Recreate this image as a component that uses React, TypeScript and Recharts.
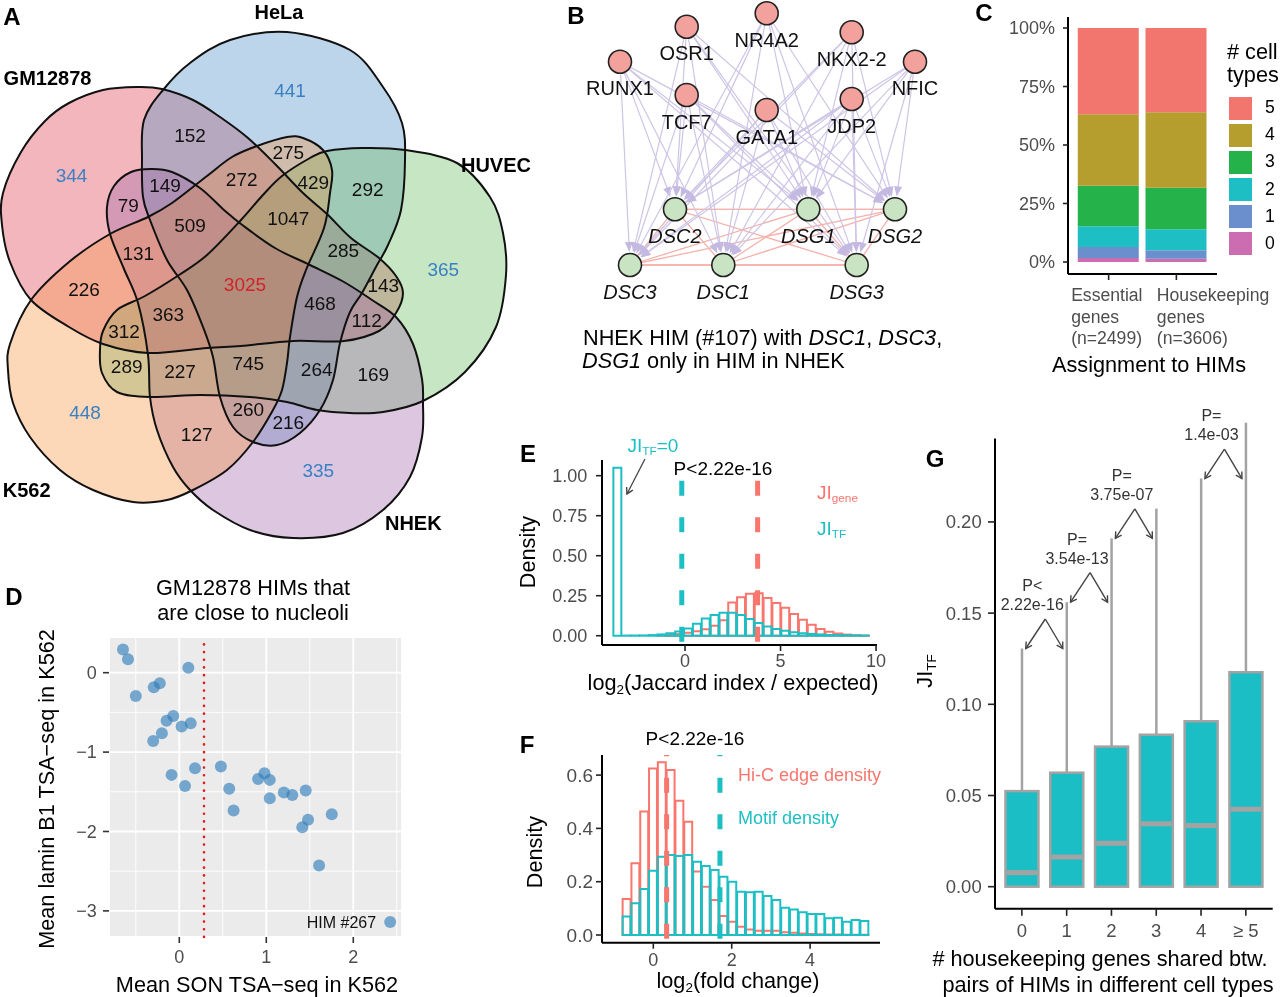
import React from 'react';
import {
  ScatterChart, Scatter, XAxis, YAxis, BarChart, Bar,
  CartesianGrid, ReferenceLine,
} from 'recharts';

const FONT = '"Liberation Sans", Arial, Helvetica, sans-serif';
const TICK_GREY = '#4D4D4D';
const RED = '#F8766D';
const TEAL = '#1DBFC4';
const AXIS_LINE = { stroke: '#000', strokeWidth: 2 };
const TICK_LINE = { stroke: '#222', strokeWidth: 1.6 };
const tickStyle = (size: number) => ({ fill: TICK_GREY, fontSize: size, fontFamily: FONT });

/* ================= A: Venn ================= */
const vennSetNames = ['GM12878', 'HeLa', 'HUVEC', 'NHEK', 'K562'];
const vennSetFill = ['#E86E79', '#7BABD5', '#8FCD87', '#B98DC1', '#F9AF71'];
const vennSetTint = ['#F4B7BC', '#BDD5EA', '#C7E6C3', '#DCC6E0', '#FCD7B8'];
const vennSetOutline: number[][][] = [
  [[3,193],[21,152],[45,121],[69,103],[103,90],[138,87],[162,89],[193,100],[220,117],[248,138],[276,165],[303,193],[327,214],[351,238],[379,258],[396,276],[403,293],[396,313],[379,331],[344,341],[293,341],[241,346],[207,348],[148,353],[103,344],[69,327],[31,300],[10,262],[2,225]],
  [[287,32],[350,50],[383,87],[402,123],[405,160],[401,210],[388,245],[377,265],[362,293],[350,312],[340,343],[333,380],[320,410],[300,433],[277,445],[253,442],[233,427],[220,397],[213,357],[203,327],[187,290],[167,260],[150,220],[143,197],[142,160],[144,120],[163,90],[190,63],[230,40]],
  [[100,350],[103,331],[117,310],[145,296],[179,275],[207,255],[241,220],[262,196],[282,176],[310,158],[327,151],[362,148],[405,150],[457,163],[490,197],[503,233],[506,275],[496,327],[465,372],[423,401],[383,412],[350,413],[317,410],[287,402],[250,397],[200,395],[150,397],[117,392],[102,373]],
  [[107,207],[114,186],[131,172],[151,169],[172,172],[200,188],[224,210],[241,224],[275,248],[310,265],[344,282],[372,300],[396,317],[413,344],[422,379],[423,403],[422,437],[410,477],[383,510],[343,533],[293,538],[250,530],[213,510],[190,490],[173,467],[157,430],[150,397],[148,355],[138,303],[124,269],[110,234]],
  [[257,146],[287,137],[303,138],[323,150],[332,170],[330,193],[324,228],[306,270],[297,297],[290,337],[287,363],[282,390],[273,410],[253,442],[227,470],[193,490],[167,500],[133,502],[93,490],[60,470],[30,437],[13,403],[8,370],[10,344],[31,300],[69,262],[110,234],[148,217],[172,203],[207,176],[232,157]],
];
const vennSetLabelAt = [[47.5,77.5],[279,12],[496,165.3],[413.3,523.3],[26.7,490]];
const vennCounts = [441,152,275,149,272,429,292,79,509,1047,131,285,365,3025,226,143,468,363,112,312,289,227,745,264,169,448,260,216,127,335,344];
const vennCountAt = [[290,90],[190,135],[288.3,152.7],[165,185.7],[241.7,179.3],[313.3,182.3],[367.7,189],[128.3,205],[190,225],[288.3,218.3],[138.3,253.3],[343.3,250],[443.3,269.3],[245,284],[84,289],[383.3,285.7],[320,303.3],[168.3,314.3],[366.7,320.7],[124,331.7],[126.7,366.7],[180,371.7],[248.3,363.3],[316.7,369.3],[373.3,374],[85,412.7],[248.3,409.3],[288.3,422.7],[196.7,434],[318.3,470],[71.6,175.6]];
const vennUniqueCounts = [344, 441, 365, 335, 448];
const vennAllCount = 3025;

/* ================= B: network ================= */
const tfNames = ['RUNX1','OSR1','NR4A2','NKX2-2','NFIC','TCF7','GATA1','JDP2'];
const tfLayout = [[620,61.7],[686.7,26.7],[766.7,13.3],[851.7,32.3],[915,61.7],[686.7,95],[766.7,110],[851.7,99]];
const geneNames = ['DSC2','DSG1','DSG2','DSC3','DSC1','DSG3'];
const geneLayout = [[675,209.3],[808.3,209.3],[895,209.3],[630,265],[723.3,265],[856.7,265]];
const regEdges: [string,string][] = [];
tfNames.forEach((t) => geneNames.forEach((g) => regEdges.push([t, g])));
const coEdges: [string,string][] = [
  ['DSC2','DSG1'],['DSC2','DSG2'],['DSC2','DSC1'],['DSC2','DSG3'],['DSC2','DSC3'],
  ['DSC3','DSC1'],['DSC3','DSG3'],['DSC3','DSG1'],['DSC3','DSG2'],
  ['DSC1','DSG3'],['DSC1','DSG2'],['DSC1','DSG1'],['DSG1','DSG3'],['DSG2','DSG3'],['DSG1','DSG2'],
];

/* ================= C: stacked bars ================= */
const cCategoryLines = [['Essential','genes','(n=2499)'],['Housekeeping','genes','(n=3606)']];
const cLevels = ['0','1','2','3','4','5'];
const cColors = ['#CC6DB2','#6B8FCD','#1DBEC4','#25B24B','#B59E2E','#F3766E'];
const cEssential = [1.7, 4.7, 8.9, 17.3, 30.5, 36.9];
const cHousekeeping = [1.4, 3.6, 9.0, 17.7, 32.3, 36.0];
const cTable = [cEssential, cHousekeeping].map((vals, i) => {
  const row: any = { x: i + 1 };
  cLevels.forEach((l, j) => { row['n' + l] = vals[j]; });
  return row;
});
const cTickShift = [-37.5, -19.5];

/* ================= D: scatter ================= */
const dSon = [-0.647,-0.59,-0.5,-0.293,-0.224,0.104,-0.146,-0.069,-0.2,-0.3,0.027,0.131,-0.089,0.066,0.181,0.478,0.574,0.624,0.906,0.979,1.04,1.04,1.202,1.299,1.453,1.753,1.48,1.414,1.607,2.424];
const dLamin = [0.293,0.168,-0.293,-0.184,-0.134,0.063,-0.604,-0.545,-0.763,-0.86,-0.679,-0.637,-1.287,-1.426,-1.203,-1.182,-1.463,-1.736,-1.338,-1.266,-1.35,-1.581,-1.509,-1.539,-1.484,-1.782,-1.853,-1.946,-2.428,-3.14];
const dTable = dSon.map((x, i) => ({ x, y: dLamin[i] }));
const dThreshold = 0.284;
const dLabelled = [{ x: 2.424, y: -3.14, label: 'HIM #267' }];

/* ================= E: histogram ================= */
const eBinMid = [-3.519,-3.056,-2.594,-2.131,-1.669,-1.206,-0.744,-0.281,0.181,0.644,1.106,1.569,2.031,2.494,2.956,3.419,3.881,4.344,4.806,5.269,5.731,6.194,6.656,7.119,7.581,8.044,8.506,8.969,9.431];
const eGene = [0,0,0,0,0,0.002,0.005,0.01,0.018,0.028,0.04,0.062,0.097,0.208,0.24,0.262,0.265,0.235,0.205,0.175,0.135,0.1,0.068,0.042,0.025,0.014,0.007,0.003,0.001];
const eTF = [1.05,0.001,0.001,0.002,0.004,0.008,0.015,0.026,0.045,0.075,0.108,0.13,0.143,0.143,0.13,0.105,0.08,0.058,0.042,0.031,0.022,0.016,0.011,0.008,0.005,0.004,0.003,0.002,0.001];
const eGeneTable = eBinMid.map((x, i) => ({ x, v: eGene[i] }));
const eTFTable = eBinMid.map((x, i) => ({ x, v: eTF[i] }));
const eMeanTF = -0.17;
const eMeanGene = 3.8;
const eZeroNote = [{ x: -3.04, y: 0.886 }];

/* ================= F: histogram ================= */
const fBinMid = [-0.671,-0.446,-0.221,0.003,0.228,0.453,0.677,0.902,1.127,1.351,1.576,1.801,2.026,2.25,2.475,2.7,2.924,3.149,3.374,3.598,3.823,4.048,4.273,4.497,4.722,4.947,5.171,5.396];
const fHiC = [0.135,0.269,0.463,0.625,0.648,0.619,0.504,0.425,0.238,0.181,0.131,0.071,0.05,0.031,0.021,0.016,0.016,0.016,0.01,0.008,0.006,0.004,0.003,0.002,0.002,0.001,0.001,0.001];
const fMotif = [0.069,0.119,0.1725,0.241,0.294,0.3,0.296,0.3,0.275,0.259,0.244,0.219,0.2,0.1625,0.16,0.1625,0.146,0.131,0.1025,0.096,0.085,0.079,0.079,0.0625,0.065,0.05,0.056,0.0525];
const fHiCTable = fBinMid.map((x, i) => ({ x, v: fHiC[i] }));
const fMotifTable = fBinMid.map((x, i) => ({ x, v: fMotif[i] }));
const fMeanHiC = 0.34;
const fMeanMotif = 1.7;

/* ================= G: boxplots ================= */
const gCats = [0, 1, 2, 3, 4, 5];
const gLabels = ['0', '1', '2', '3', '4', '\u2265 5'];
const gQ3 = [0.0524, 0.0625, 0.0768, 0.0833, 0.0907, 0.1176];
const gMedian = [0.0077, 0.0163, 0.0238, 0.0345, 0.0335, 0.0425];
const gWhiskerTop = [0.1306, 0.156, 0.191, 0.2073, 0.2238, 0.2544];
const gTable = gCats.map((x, i) => ({ x, q3: gQ3[i], median: gMedian[i], whiskerTop: gWhiskerTop[i] }));
const gTests = [
  { from: 0, to: 1, p: ['P<', '2.22e-16'] },
  { from: 1, to: 2, p: ['P=', '3.54e-13'] },
  { from: 2, to: 3, p: ['P=', '3.75e-07'] },
  { from: 4, to: 5, p: ['P=', '1.4e-03'] },
];
const gAnno = gTests.map((t) => ({ x: (t.from + t.to) / 2, y: gWhiskerTop[t.from], p: t.p }));

/* ================= helpers ================= */
function closedPath(pts: { x: number; y: number }[]) {
  const n = pts.length;
  if (n < 3) return '';
  let d = `M${pts[0].x.toFixed(2)},${pts[0].y.toFixed(2)}`;
  for (let i = 0; i < n; i++) {
    const p0 = pts[(i - 1 + n) % n], p1 = pts[i], p2 = pts[(i + 1) % n], p3 = pts[(i + 2) % n];
    const c1x = p1.x + (p2.x - p0.x) / 6, c1y = p1.y + (p2.y - p0.y) / 6;
    const c2x = p2.x - (p3.x - p1.x) / 6, c2y = p2.y - (p3.y - p1.y) / 6;
    d += ` C${c1x.toFixed(2)},${c1y.toFixed(2)} ${c2x.toFixed(2)},${c2y.toFixed(2)} ${p2.x.toFixed(2)},${p2.y.toFixed(2)}`;
  }
  return d + ' Z';
}
const linePts = (p: any) => (p.points || []).map((q: any) => ({ x: q.x ?? q.cx, y: q.y ?? q.cy }));
const noShape = () => <g />;
const pay = (p: any) => p.payload ?? p;

const vennLengths = vennSetOutline.map((o) => o.length);
function splitOutlines(pts: { x: number; y: number }[]) {
  const out: { x: number; y: number }[][] = [];
  let s = 0;
  vennLengths.forEach((n) => { out.push(pts.slice(s, s + n)); s += n; });
  return out;
}
const vennAllPoints = vennSetOutline.flat().map(([x, y]) => ({ x, y }));

function arrowHead(x: number, y: number, ux: number, uy: number, len: number, half: number, fill: string) {
  const bx = x - ux * len, by = y - uy * len;
  const px = -uy, py = ux;
  return <polygon points={`${x},${y} ${bx + px * half},${by + py * half} ${bx - px * half},${by - py * half}`} fill={fill} />;
}
function openArrow(x: number, y: number, ux: number, uy: number, len: number, color: string) {
  const a = Math.PI / 6;
  const l1x = x - len * (ux * Math.cos(a) - uy * Math.sin(a));
  const l1y = y - len * (uy * Math.cos(a) + ux * Math.sin(a));
  const l2x = x - len * (ux * Math.cos(a) + uy * Math.sin(a));
  const l2y = y - len * (uy * Math.cos(a) - ux * Math.sin(a));
  return <polyline points={`${l1x},${l1y} ${x},${y} ${l2x},${l2y}`} fill="none" stroke={color} strokeWidth={1.4} />;
}

function Txt({ x, y, children, size = 21.7, color = '#000', align = 'center', bold = false, italic = false, rotate = 0 }: any) {
  const tx = align === 'center' ? '-50%' : align === 'right' ? '-100%' : '0%';
  return (
    <div style={{
      position: 'absolute', left: x, top: y,
      transform: `translate(${tx}, -50%)` + (rotate ? ` rotate(${rotate}deg)` : ''),
      fontSize: size, color, fontWeight: bold ? 700 : 400, fontStyle: italic ? 'italic' : 'normal',
      whiteSpace: 'nowrap', lineHeight: 1, fontFamily: FONT,
    }}>{children}</div>
  );
}
const Sub = ({ children }: any) => <span style={{ fontSize: '0.62em', verticalAlign: '-0.3em', lineHeight: 0 }}>{children}</span>;

/* ================= panels ================= */
function VennPanel() {
  const countData = vennCounts.map((c, i) => ({ x: vennCountAt[i][0], y: vennCountAt[i][1], c }));
  const setData = vennSetNames.map((s, i) => ({ x: vennSetLabelAt[i][0], y: vennSetLabelAt[i][1], s }));
  return (
    <div style={{ position: 'absolute', left: 0, top: 0 }}>
      <ScatterChart width={540} height={560} margin={{ top: 0, right: 0, bottom: 0, left: 0 }}>
        <XAxis type="number" dataKey="x" domain={[0, 540]} hide allowDataOverflow />
        <YAxis type="number" dataKey="y" domain={[0, 560]} reversed hide allowDataOverflow />
        <Scatter data={vennAllPoints} isAnimationActive={false} shape={noShape}
          line={(p: any) => {
            const sets = splitOutlines(linePts(p));
            return (
              <g>
                <g>
                  {sets.map((s, i) => <path key={'n' + i} d={closedPath(s)} fill={vennSetFill[i]} fillOpacity={0.5} stroke="none" />)}
                </g>
                <g opacity={0.36} style={{ isolation: 'isolate' }}>
                  {sets.map((s, i) => <path key={'m' + i} d={closedPath(s)} fill={vennSetTint[i]} stroke="none" style={{ mixBlendMode: 'multiply' }} />)}
                </g>
                <g>
                  {sets.map((s, i) => <path key={'o' + i} d={closedPath(s)} fill="none" stroke="#111" strokeWidth={2} />)}
                </g>
              </g>
            );
          }} />
        <Scatter data={countData} isAnimationActive={false} shape={(p: any) => {
          const c = pay(p).c;
          const color = c === vennAllCount ? '#D2232A' : vennUniqueCounts.includes(c) ? '#3A80C4' : '#111';
          return <text x={p.cx} y={p.cy} dy="0.355em" textAnchor="middle" fill={color} style={{ fontFamily: FONT, fontSize: 19 }}>{c}</text>;
        }} />
        <Scatter data={setData} isAnimationActive={false} shape={(p: any) => (
          <text x={p.cx} y={p.cy} dy="0.355em" textAnchor="middle" fill="#000" style={{ fontFamily: FONT, fontSize: 20, fontWeight: 700 }}>{pay(p).s}</text>
        )} />
      </ScatterChart>
    </div>
  );
}

function NetworkPanel() {
  const pos: Record<string, { x: number; y: number }> = {};
  tfNames.forEach((t, i) => { pos[t] = { x: tfLayout[i][0], y: tfLayout[i][1] }; });
  geneNames.forEach((g, i) => { pos[g] = { x: geneLayout[i][0], y: geneLayout[i][1] }; });
  const R = 11.5;
  const regLine = (p: any) => {
    const [a, b] = linePts(p);
    if (!a || !b) return <g />;
    const dx = b.x - a.x, dy = b.y - a.y, L = Math.hypot(dx, dy), ux = dx / L, uy = dy / L;
    const x1 = a.x + ux * (R + 1), y1 = a.y + uy * (R + 1);
    const x2 = b.x - ux * (R + 1.5), y2 = b.y - uy * (R + 1.5);
    return (
      <g>
        <line x1={x1} y1={y1} x2={x2 - ux * 6} y2={y2 - uy * 6} stroke="#CEC5E6" strokeWidth={1.2} />
        {arrowHead(x2, y2, ux, uy, 10, 4, '#C4B9E1')}
      </g>
    );
  };
  const coLine = (p: any) => {
    const [a, b] = linePts(p);
    if (!a || !b) return <g />;
    return <line x1={a.x} y1={a.y} x2={b.x} y2={b.y} stroke="#F4B2AB" strokeWidth={1.3} />;
  };
  const tfData = tfNames.map((t) => ({ ...pos[t], name: t }));
  const geneData = geneNames.map((g) => ({ ...pos[g], name: g }));
  return (
    <div style={{ position: 'absolute', left: 560, top: 0 }}>
      <ScatterChart width={400} height={330} margin={{ top: 0, right: 0, bottom: 0, left: 0 }}>
        <XAxis type="number" dataKey="x" domain={[560, 960]} hide allowDataOverflow />
        <YAxis type="number" dataKey="y" domain={[0, 330]} reversed hide allowDataOverflow />
        {coEdges.map(([a, b], i) => (
          <Scatter key={'c' + i} data={[pos[a], pos[b]]} isAnimationActive={false} shape={noShape} line={coLine} />
        ))}
        {regEdges.map(([a, b], i) => (
          <Scatter key={'r' + i} data={[pos[a], pos[b]]} isAnimationActive={false} shape={noShape} line={regLine} />
        ))}
        <Scatter data={tfData} isAnimationActive={false} shape={(p: any) => (
          <g>
            <circle cx={p.cx} cy={p.cy} r={R} fill="#F2A19C" stroke="#222" strokeWidth={1.6} />
            <text x={p.cx} y={p.cy + 26.5} dy="0.355em" textAnchor="middle" style={{ fontFamily: FONT, fontSize: 20 }} fill="#111">{pay(p).name}</text>
          </g>
        )} />
        <Scatter data={geneData} isAnimationActive={false} shape={(p: any) => (
          <g>
            <circle cx={p.cx} cy={p.cy} r={R} fill="#C9E4C3" stroke="#222" strokeWidth={1.6} />
            <text x={p.cx} y={p.cy + 26.5} dy="0.355em" textAnchor="middle" style={{ fontFamily: FONT, fontSize: 20, fontStyle: 'italic' }} fill="#111">{pay(p).name}</text>
          </g>
        )} />
      </ScatterChart>
    </div>
  );
}

function PanelC() {
  const renderTick = (props: any) => {
    const { x, y, payload } = props;
    const i = Math.round(payload.value) - 1;
    if (i < 0 || i > 1) return <g />;
    return (
      <g>
        {cCategoryLines[i].map((s, j) => (
          <text key={j} x={x + cTickShift[i]} y={y + 15 + j * 21.6} dy="0.355em" textAnchor="start" fill={TICK_GREY} style={{ fontFamily: FONT, fontSize: 17.6 }}>{s}</text>
        ))}
      </g>
    );
  };
  return (
    <div style={{ position: 'absolute', left: 960, top: 0 }}>
      <BarChart width={320} height={380} data={cTable} margin={{ top: 17, right: 63, bottom: 0, left: 0 }}>
        <XAxis type="number" dataKey="x" domain={[0.4, 2.6]} ticks={[1, 2]} interval={0} height={106} allowDataOverflow
          axisLine={AXIS_LINE} tickLine={TICK_LINE} tickSize={6} tickMargin={0} tick={renderTick} />
        <YAxis type="number" domain={[-5.13, 104.7]} ticks={[0, 25, 50, 75, 100]} interval={0} width={108} allowDataOverflow
          tickFormatter={(v: number) => `${v}%`} axisLine={AXIS_LINE} tickLine={TICK_LINE} tickSize={5} tickMargin={8} tick={tickStyle(18)} />
        {cLevels.map((l, j) => (
          <Bar key={l} dataKey={'n' + l} stackId="s" fill={cColors[j]} barSize={61} isAnimationActive={false} />
        ))}
      </BarChart>
    </div>
  );
}

function PanelD() {
  const minorX = [-0.5, 0.5, 1.5, 2.5];
  const minorY = [-2.5, -1.5, -0.5];
  const fmt = (v: number) => (v === 0 ? '0' : v < 0 ? '\u2212' + Math.abs(v) : String(v));
  return (
    <div style={{ position: 'absolute', left: 0, top: 560 }}>
      <ScatterChart width={420} height={437} margin={{ top: 77, right: 18, bottom: 0, left: 0 }}>
        <CartesianGrid fill="#EBEBEB" stroke="#FFFFFF" strokeWidth={1.8} />
        <XAxis type="number" dataKey="x" domain={[-0.808, 2.56]} ticks={[0, 1, 2]} interval={0} height={60} allowDataOverflow
          axisLine={false} tickLine={{ stroke: '#333', strokeWidth: 1.6 }} tickSize={6} tickMargin={7.5} tick={tickStyle(18)} />
        <YAxis type="number" dataKey="y" domain={[-3.329, 0.4496]} ticks={[-3, -2, -1, 0]} interval={0} width={109} allowDataOverflow
          tickFormatter={fmt} axisLine={false} tickLine={{ stroke: '#333', strokeWidth: 1.6 }} tickSize={6} tickMargin={6.3} tick={tickStyle(18)} />
        {minorX.map((v) => <ReferenceLine key={'mx' + v} x={v} stroke="#FFFFFF" strokeWidth={0.9} />)}
        {minorY.map((v) => <ReferenceLine key={'my' + v} y={v} stroke="#FFFFFF" strokeWidth={0.9} />)}
        <ReferenceLine x={dThreshold} stroke="#E41A1C" strokeWidth={2.6} strokeDasharray="0.1 7.6" strokeLinecap="round" />
        <Scatter data={dTable} isAnimationActive={false} shape={(p: any) => (
          <circle cx={p.cx} cy={p.cy} r={6} fill="#2B7BBA" fillOpacity={0.62} />
        )} />
        <Scatter data={dLabelled} isAnimationActive={false} shape={(p: any) => (
          <text x={p.cx - 14} y={p.cy} dy="0.355em" textAnchor="end" fill="#111" style={{ fontFamily: FONT, fontSize: 16 }}>{pay(p).label}</text>
        )} />
      </ScatterChart>
    </div>
  );
}

const E_DOMAIN_X: [number, number] = [-4.346, 10.05];
const E_DOMAIN_Y: [number, number] = [-0.058, 1.098];
const E_PLOT_MARGIN = { top: 30, right: 23, bottom: 55, left: 92 };
function PanelE() {
  return (
    <>
      <div style={{ position: 'absolute', left: 510, top: 430 }}>
        <BarChart width={390} height={270} data={eGeneTable} margin={{ top: 30, right: 23, bottom: 0, left: 0 }}>
          <XAxis type="number" dataKey="x" domain={E_DOMAIN_X} ticks={[0, 5, 10]} interval={0} height={55} allowDataOverflow
            axisLine={AXIS_LINE} tickLine={TICK_LINE} tickSize={6} tickMargin={3.5} tick={tickStyle(18)} />
          <YAxis type="number" domain={E_DOMAIN_Y} ticks={[0, 0.25, 0.5, 0.75, 1]} interval={0} width={92} allowDataOverflow
            tickFormatter={(v: number) => v.toFixed(2)} axisLine={AXIS_LINE} tickLine={TICK_LINE} tickSize={6} tickMargin={8.7} tick={tickStyle(18)} />
          <Bar dataKey="v" barSize={8.83} fill="none" stroke={RED} strokeWidth={2} isAnimationActive={false} />
        </BarChart>
      </div>
      <div style={{ position: 'absolute', left: 510, top: 430 }}>
        <BarChart width={390} height={270} data={eTFTable} margin={E_PLOT_MARGIN}>
          <XAxis type="number" dataKey="x" domain={E_DOMAIN_X} hide allowDataOverflow />
          <YAxis type="number" domain={E_DOMAIN_Y} hide allowDataOverflow />
          <Bar dataKey="v" barSize={8.83} fill="none" stroke={TEAL} strokeWidth={2} isAnimationActive={false} />
          <ReferenceLine segment={[{ x: eMeanTF, y: -0.0375 }, { x: eMeanTF, y: 1.098 }]} stroke={TEAL} strokeWidth={5} strokeDasharray="15 21.5" ifOverflow="visible" />
          <ReferenceLine segment={[{ x: eMeanGene, y: -0.0375 }, { x: eMeanGene, y: 1.098 }]} stroke={RED} strokeWidth={5} strokeDasharray="15 21.5" ifOverflow="visible" />
        </BarChart>
      </div>
      <div style={{ position: 'absolute', left: 510, top: 430 }}>
        <ScatterChart width={390} height={270} margin={E_PLOT_MARGIN}>
          <XAxis type="number" dataKey="x" domain={E_DOMAIN_X} hide />
          <YAxis type="number" dataKey="y" domain={E_DOMAIN_Y} hide />
          <Scatter data={eZeroNote} isAnimationActive={false} shape={(p: any) => {
            const sx = p.cx + 18, sy = p.cy - 35;
            const dx = p.cx - sx, dy = p.cy - sy, L = Math.hypot(dx, dy);
            return (
              <g>
                <line x1={sx} y1={sy} x2={p.cx} y2={p.cy} stroke="#444" strokeWidth={1.3} />
                {openArrow(p.cx, p.cy, dx / L, dy / L, 7, '#444')}
              </g>
            );
          }} />
        </ScatterChart>
      </div>
    </>
  );
}

const F_DOMAIN_X: [number, number] = [-1.309, 5.783];
const F_DOMAIN_Y: [number, number] = [-0.0289, 0.6754];
function PanelF() {
  return (
    <>
      <div style={{ position: 'absolute', left: 510, top: 720 }}>
        <BarChart width={390} height={277} data={fHiCTable} margin={{ top: 35, right: 20, bottom: 0, left: 0 }}>
          <XAxis type="number" dataKey="x" domain={F_DOMAIN_X} ticks={[0, 2, 4]} interval={0} height={54.3} allowDataOverflow
            axisLine={AXIS_LINE} tickLine={TICK_LINE} tickSize={6} tickMargin={5} tick={tickStyle(18)} />
          <YAxis type="number" domain={F_DOMAIN_Y} ticks={[0, 0.2, 0.4, 0.6]} interval={0} width={92} allowDataOverflow
            tickFormatter={(v: number) => v.toFixed(1)} axisLine={AXIS_LINE} tickLine={TICK_LINE} tickSize={6} tickMargin={3} tick={tickStyle(19)} />
          <Bar dataKey="v" barSize={8.81} fill="none" stroke={RED} strokeWidth={2} isAnimationActive={false} />
        </BarChart>
      </div>
      <div style={{ position: 'absolute', left: 510, top: 720 }}>
        <BarChart width={390} height={277} data={fMotifTable} margin={{ top: 35, right: 20, bottom: 54.3, left: 92 }}>
          <XAxis type="number" dataKey="x" domain={F_DOMAIN_X} hide allowDataOverflow />
          <YAxis type="number" domain={F_DOMAIN_Y} hide allowDataOverflow />
          <Bar dataKey="v" barSize={8.81} fill="none" stroke={TEAL} strokeWidth={2} isAnimationActive={false} />
          <ReferenceLine segment={[{ x: fMeanHiC, y: -0.0138 }, { x: fMeanHiC, y: 0.6754 }]} stroke={RED} strokeWidth={5} strokeDasharray="15 21.5" ifOverflow="visible" />
          <ReferenceLine segment={[{ x: fMeanMotif, y: -0.0138 }, { x: fMeanMotif, y: 0.6754 }]} stroke={TEAL} strokeWidth={5} strokeDasharray="15 21.5" ifOverflow="visible" />
        </BarChart>
      </div>
    </>
  );
}

const G_DOMAIN_X: [number, number] = [-0.6, 5.6];
const G_DOMAIN_Y: [number, number] = [-0.01212, 0.2458];
function PanelG() {
  const boxShape = (p: any) => {
    const { x, y, width, height } = p;
    const d = pay(p);
    if (!height || !d.q3) return <g />;
    const base = y + height;
    const k = height / d.q3;
    const cx = x + width / 2;
    const med = base - d.median * k;
    const wt = base - d.whiskerTop * k;
    return (
      <g>
        <line x1={cx} x2={cx} y1={y} y2={wt} stroke="#A3A3A3" strokeWidth={2.5} />
        <rect x={x} y={y} width={width} height={height} fill="#1ABEC4" stroke="#A3A3A3" strokeWidth={2.5} />
        <line x1={x + 1.2} x2={x + width - 1.2} y1={med} y2={med} stroke="#A3A3A3" strokeWidth={5} />
      </g>
    );
  };
  const annoShape = (p: any) => {
    const d = pay(p);
    const cx = p.cx, cy = p.cy;
    const ax = cx + 1, ay = cy - 29.5;
    const ends = [[cx - 18.5, cy], [cx + 18.5, cy]];
    return (
      <g>
        {ends.map(([ex, ey], i) => {
          const dx = ex - ax, dy = ey - ay, L = Math.hypot(dx, dy);
          return (
            <g key={i}>
              <line x1={ax} y1={ay} x2={ex} y2={ey} stroke="#444" strokeWidth={1.4} />
              {openArrow(ex, ey, dx / L, dy / L, 7, '#444')}
            </g>
          );
        })}
        <text x={cx - 12} y={cy - 63} dy="0.355em" textAnchor="middle" fill="#333" style={{ fontFamily: FONT, fontSize: 16 }}>{d.p[0]}</text>
        <text x={cx - 12} y={cy - 44} dy="0.355em" textAnchor="middle" fill="#333" style={{ fontFamily: FONT, fontSize: 16 }}>{d.p[1]}</text>
      </g>
    );
  };
  return (
    <>
      <div style={{ position: 'absolute', left: 910, top: 400 }}>
        <BarChart width={370} height={597} data={gTable} margin={{ top: 38.4, right: 7.3, bottom: 0, left: 0 }}>
          <XAxis type="number" dataKey="x" domain={G_DOMAIN_X} ticks={gCats} interval={0} height={88.2}
            tickFormatter={(v: number) => gLabels[v] ?? ''} axisLine={AXIS_LINE} tickLine={TICK_LINE} tickSize={7} tickMargin={7.7} tick={tickStyle(18.5)} />
          <YAxis type="number" domain={G_DOMAIN_Y} ticks={[0, 0.05, 0.1, 0.15, 0.2]} interval={0} width={85}
            tickFormatter={(v: number) => v.toFixed(2)} axisLine={AXIS_LINE} tickLine={TICK_LINE} tickSize={7} tickMargin={6.3} tick={tickStyle(18.5)} />
          <Bar dataKey="q3" barSize={33} shape={boxShape} isAnimationActive={false} />
        </BarChart>
      </div>
      <div style={{ position: 'absolute', left: 910, top: 400 }}>
        <ScatterChart width={370} height={597} margin={{ top: 38.4, right: 7.3, bottom: 88.2, left: 85 }} style={{ overflow: 'visible' }}>
          <XAxis type="number" dataKey="x" domain={G_DOMAIN_X} hide />
          <YAxis type="number" dataKey="y" domain={G_DOMAIN_Y} hide />
          <Scatter data={gAnno} isAnimationActive={false} shape={annoShape} />
        </ScatterChart>
      </div>
    </>
  );
}

function Legends() {
  const rows = [...cLevels].reverse();
  return (
    <>
      <Txt x={1227} y={52} align="left">{'# cell'}</Txt>
      <Txt x={1227} y={75} align="left">types</Txt>
      {rows.map((l, i) => (
        <React.Fragment key={l}>
          <div style={{ position: 'absolute', left: 1229, top: 96.7 + i * 27.1, width: 23, height: 23, background: cColors[cLevels.indexOf(l)] }} />
          <Txt x={1265} y={108.2 + i * 27.1} size={17.6} align="left">{l}</Txt>
        </React.Fragment>
      ))}
    </>
  );
}

export default function App() {
  return (
    <div style={{ position: 'absolute', left: 0, top: 0, width: 1280, height: 997, background: '#fff', fontFamily: FONT, overflow: 'hidden' }}>
      <VennPanel />
      <NetworkPanel />
      <PanelC />
      <PanelD />
      <PanelE />
      <PanelF />
      <PanelG />
      <Legends />

      {/* panel letters */}
      <Txt x={12} y={17} size={24} bold>A</Txt>
      <Txt x={576} y={16} size={24} bold>B</Txt>
      <Txt x={984} y={13} size={24} bold>C</Txt>
      <Txt x={14} y={597} size={24} bold>D</Txt>
      <Txt x={528} y={454} size={24} bold>E</Txt>
      <Txt x={527} y={745} size={24} bold>F</Txt>
      <Txt x={935} y={459} size={24} bold>G</Txt>

      {/* B caption */}
      <Txt x={583} y={337.5} align="left">NHEK HIM (#107) with <i>DSC1</i>, <i>DSC3</i>,</Txt>
      <Txt x={582} y={361} align="left"><i>DSG1</i> only in HIM in NHEK</Txt>

      {/* C title */}
      <Txt x={1149} y={365}>Assignment to HIMs</Txt>

      {/* D texts */}
      <Txt x={253} y={588}>GM12878 HIMs that</Txt>
      <Txt x={253} y={613}>are close to nucleoli</Txt>
      <Txt x={257} y={985}>Mean SON TSA{'\u2212'}seq in K562</Txt>
      <Txt x={47} y={789} rotate={-90}>Mean lamin B1 TSA{'\u2212'}seq in K562</Txt>

      {/* E texts */}
      <Txt x={528} y={552} rotate={-90}>Density</Txt>
      <Txt x={733} y={683}>log<Sub>2</Sub>(Jaccard index / expected)</Txt>
      <Txt x={723} y={468} size={19}>P&lt;2.22e-16</Txt>
      <Txt x={653} y={445} size={19} color={TEAL}>JI<Sub>TF</Sub>=0</Txt>
      <Txt x={817} y={492} size={19} color={RED} align="left">JI<Sub>gene</Sub></Txt>
      <Txt x={817} y={528} size={19} color={TEAL} align="left">JI<Sub>TF</Sub></Txt>

      {/* F texts */}
      <Txt x={535} y={852} rotate={-90}>Density</Txt>
      <Txt x={738} y={981}>log<Sub>2</Sub>(fold change)</Txt>
      <Txt x={695} y={738} size={19}>P&lt;2.22e-16</Txt>
      <Txt x={738} y={775} size={18} color={RED} align="left">Hi-C edge density</Txt>
      <Txt x={738} y={818} size={18} color={TEAL} align="left">Motif density</Txt>

      {/* G texts */}
      <Txt x={925} y={671} rotate={-90}>JI<Sub>TF</Sub></Txt>
      <Txt x={1100} y={959}># housekeeping genes shared btw.</Txt>
      <Txt x={1108} y={985}>pairs of HIMs in different cell types</Txt>
    </div>
  );
}
